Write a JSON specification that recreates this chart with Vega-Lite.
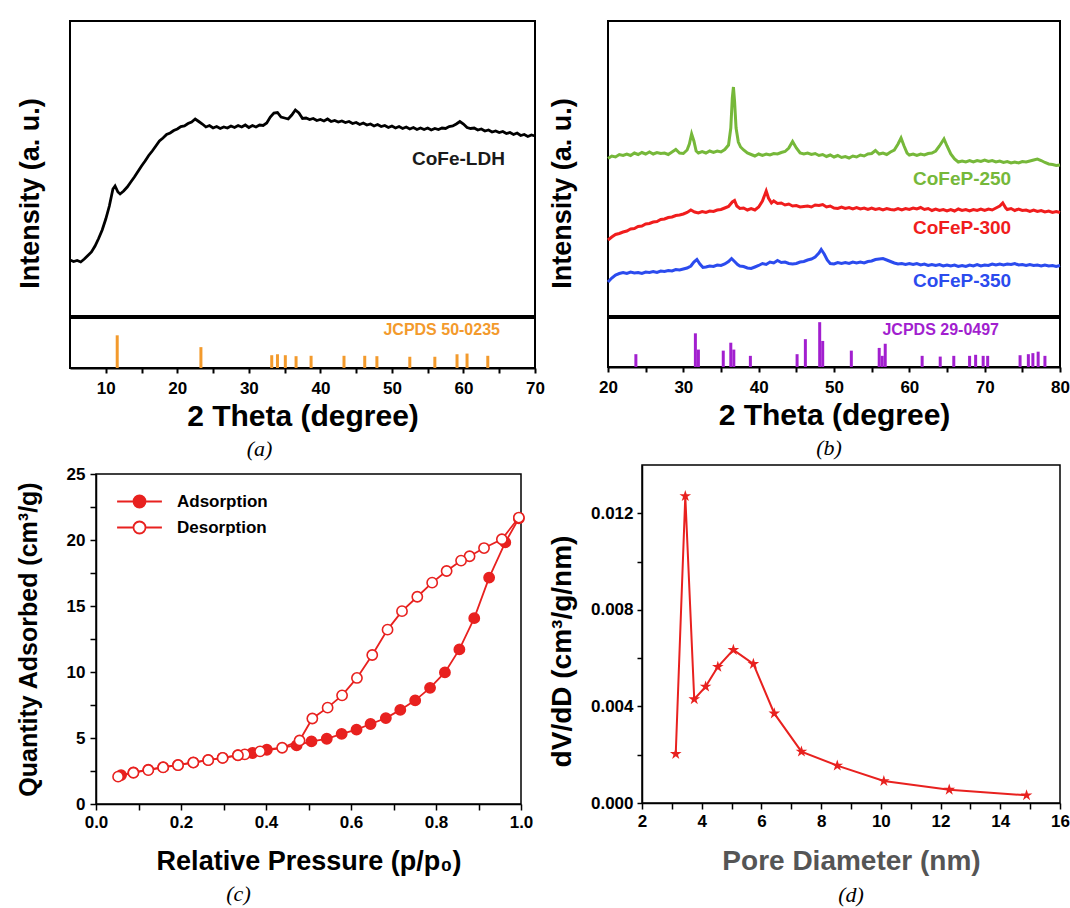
{
  "$schema": "https://vega.github.io/schema/vega-lite/v6.json",
  "background": "white",
  "padding": {"left": 0, "top": 20, "right": 0, "bottom": 0},
  "columns": 1,
  "spacing": 0,
  "align": "none",
  "resolve": {"legend": {"fill": "independent"}},
  "config": {
    "font": "Liberation Sans",
    "view": {"stroke": "black", "strokeWidth": 1.5},
    "axis": {
      "labelFont": "Liberation Sans", "labelFontWeight": "bold", "labelFontSize": 17, "labelColor": "black",
      "titleFont": "Liberation Sans", "titleFontWeight": "bold", "titleColor": "black",
      "domainColor": "black", "domainWidth": 1.5, "tickColor": "black", "tickWidth": 1.5,
      "grid": false, "labelFlush": false, "labelOverlap": false
    },
    "title": {"font": "Liberation Serif", "fontStyle": "italic", "fontWeight": "normal", "fontSize": 22, "color": "black"}
  },
  "concat": [
    {
      "columns": 3,
      "spacing": 1,
      "align": "none",
      "concat": [
        {"width": 14, "height": 1, "view": {"stroke": null}, "data": {"values": []}, "mark": "point"},
        {
          "vconcat": [
            {
              "width": 465, "height": 295,
              "view": {"stroke": "black", "strokeWidth": 2},
              "encoding": {
                "x": {"field": "t", "type": "quantitative", "scale": {"domain": [5, 70], "nice": false, "zero": false}, "axis": null},
                "y": {"field": "v", "type": "quantitative", "scale": {"domain": [0, 295], "nice": false, "zero": false},
                      "axis": {"title": "Intensity (a. u.)", "labels": false, "ticks": false, "domain": false, "titlePadding": 26, "titleFontSize": 27, "titleY": 172}}
              },
              "layer": [
                {
                  "data": {"values": [
                    {"t":5.0,"v":56},{"t":5.5,"v":54.5},{"t":6.0,"v":55.5},{"t":6.5,"v":54},{"t":7.0,"v":57},{"t":7.5,"v":60.5},{"t":8.0,"v":64},{"t":8.5,"v":70},{"t":9.0,"v":77.5},{"t":9.5,"v":86},
                    {"t":10.0,"v":97},{"t":10.5,"v":110},{"t":11.0,"v":127},{"t":11.3,"v":130},{"t":11.7,"v":124},{"t":12.0,"v":122},{"t":12.5,"v":125},{"t":13.0,"v":129},{"t":13.5,"v":134},{"t":14.0,"v":139},
                    {"t":14.5,"v":144.5},{"t":15.0,"v":150},{"t":15.5,"v":155},{"t":16.0,"v":160.5},{"t":16.5,"v":165},{"t":17.0,"v":170},{"t":17.5,"v":175},{"t":18.0,"v":178},{"t":18.5,"v":181.5},{"t":19.0,"v":183},
                    {"t":19.5,"v":185.5},{"t":20.0,"v":187},{"t":20.5,"v":189.5},{"t":21.0,"v":190},{"t":21.5,"v":192.5},{"t":22.0,"v":194},{"t":22.5,"v":197},{"t":23.0,"v":194.5},{"t":23.5,"v":192},{"t":24.0,"v":189},
                    {"t":24.5,"v":190.5},{"t":25.0,"v":188},{"t":25.5,"v":189.5},{"t":26.0,"v":187.5},{"t":26.5,"v":189},{"t":27.0,"v":188},{"t":27.5,"v":190},{"t":28.0,"v":188.5},{"t":28.5,"v":190.5},{"t":29.0,"v":189},
                    {"t":29.5,"v":191},{"t":30.0,"v":188.5},{"t":30.5,"v":190.5},{"t":31.0,"v":189},{"t":31.5,"v":191},{"t":32.0,"v":190.5},{"t":32.5,"v":193},{"t":33.0,"v":199},{"t":33.5,"v":203},{"t":34.0,"v":203.5},
                    {"t":34.5,"v":199},{"t":35.0,"v":198},{"t":35.5,"v":197},{"t":36.0,"v":201},{"t":36.5,"v":206},{"t":37.0,"v":203},{"t":37.5,"v":197.5},{"t":38.0,"v":198},{"t":38.5,"v":196.5},{"t":39.0,"v":197.5},
                    {"t":39.5,"v":195.5},{"t":40.0,"v":196.5},{"t":40.5,"v":195},{"t":41.0,"v":197},{"t":41.5,"v":194.5},{"t":42.0,"v":195.5},{"t":42.5,"v":194},{"t":43.0,"v":195},{"t":43.5,"v":193.5},{"t":44.0,"v":194.5},
                    {"t":44.5,"v":192.5},{"t":45.0,"v":193.5},{"t":45.5,"v":191.5},{"t":46.0,"v":193},{"t":46.5,"v":191},{"t":47.0,"v":192},{"t":47.5,"v":190},{"t":48.0,"v":191.5},{"t":48.5,"v":189.5},{"t":49.0,"v":190.5},
                    {"t":49.5,"v":188.5},{"t":50.0,"v":190},{"t":50.5,"v":188},{"t":51.0,"v":189.5},{"t":51.5,"v":187.5},{"t":52.0,"v":189},{"t":52.5,"v":187},{"t":53.0,"v":188.5},{"t":53.5,"v":186.5},{"t":54.0,"v":188},
                    {"t":54.5,"v":186.5},{"t":55.0,"v":188},{"t":55.5,"v":186},{"t":56.0,"v":187.5},{"t":56.5,"v":186.5},{"t":57.0,"v":188},{"t":57.5,"v":187.5},{"t":58.0,"v":189.5},{"t":58.5,"v":190},{"t":59.0,"v":192},
                    {"t":59.5,"v":194.5},{"t":60.0,"v":192},{"t":60.5,"v":188.5},{"t":61.0,"v":187.5},{"t":61.5,"v":188},{"t":62.0,"v":186},{"t":62.5,"v":187},{"t":63.0,"v":185},{"t":63.5,"v":186},{"t":64.0,"v":184},
                    {"t":64.5,"v":185},{"t":65.0,"v":183.5},{"t":65.5,"v":184.5},{"t":66.0,"v":182.5},{"t":66.5,"v":183.5},{"t":67.0,"v":181.5},{"t":67.5,"v":183},{"t":68.0,"v":180.5},{"t":68.5,"v":181.5},{"t":69.0,"v":179.5},
                    {"t":69.5,"v":181},{"t":70.0,"v":180}
                  ]},
                  "mark": {"type": "line", "color": "black", "strokeWidth": 2.8}
                },
                {
                  "data": {"values": [{"label": "CoFe-LDH", "t": 59.3, "v": 157}]},
                  "mark": {"type": "text", "fontSize": 19, "fontWeight": "bold", "color": "#1a1a1a", "align": "center", "baseline": "middle"},
                  "encoding": {"text": {"field": "label"}}
                }
              ]
            },
            {
              "width": 465, "height": 50,
              "view": {"stroke": "black", "strokeWidth": 2},
              "title": {"text": "(a)", "orient": "bottom", "anchor": "middle", "frame": "group", "offset": 8, "dx": -43},
              "encoding": {
                "x": {"field": "t", "type": "quantitative", "scale": {"domain": [5, 70], "nice": false, "zero": false},
                      "axis": {"title": "2 Theta (degree)", "values": [10,15,20,25,30,35,40,45,50,55,60,65,70],
                               "labelExpr": "datum.value % 10 === 0 ? datum.label : ''", "labelFlush": false,
                               "tickSize": 5, "labelPadding": 7, "titlePadding": 5, "titleFontSize": 30, "domainWidth": 2, "tickWidth": 2}},
                "y": {"field": "h", "type": "quantitative", "scale": {"domain": [0, 52], "nice": false, "zero": false}, "axis": null}
              },
              "layer": [
                {
                  "data": {"values": [
                    {"t":11.6,"h":34},{"t":23.3,"h":21.7},{"t":33.2,"h":13.3},{"t":34.0,"h":14.3},{"t":35.1,"h":13.3},{"t":36.6,"h":12.3},{"t":38.7,"h":12.7},{"t":43.3,"h":12.7},
                    {"t":46.2,"h":12.7},{"t":47.9,"h":12.3},{"t":52.5,"h":11.7},{"t":56.0,"h":11.7},{"t":59.1,"h":14.3},{"t":60.5,"h":15},{"t":63.4,"h":12.7}
                  ]},
                  "mark": {"type": "rule", "color": "#f39a2c", "strokeWidth": 3},
                  "encoding": {"y2": {"datum": 0}}
                },
                {
                  "data": {"values": [{"label": "JCPDS 50-0235", "t": 65.1, "h": 39.5}]},
                  "mark": {"type": "text", "fontSize": 16, "fontWeight": "bold", "color": "#f39a2c", "align": "right", "baseline": "middle"},
                  "encoding": {"text": {"field": "label"}}
                }
              ]
            }
          ],
          "spacing": 0
        },
        {
          "vconcat": [
            {
              "width": 452, "height": 295,
              "view": {"stroke": "black", "strokeWidth": 2},
              "encoding": {
                "x": {"field": "t", "type": "quantitative", "scale": {"domain": [20, 80], "nice": false, "zero": false}, "axis": null},
                "y": {"field": "v", "type": "quantitative", "scale": {"domain": [0, 295], "nice": false, "zero": false},
                      "axis": {"title": "Intensity (a. u.)", "labels": false, "ticks": false, "domain": false, "titlePadding": 32, "titleFontSize": 27, "titleY": 172}}
              },
              "layer": [
                {
                  "data": {"values": [
                    {"t":20.0,"v":157.5},{"t":20.5,"v":160},{"t":21.0,"v":159},{"t":21.5,"v":161.5},{"t":22.0,"v":160.5},{"t":22.5,"v":162},{"t":23.0,"v":160.5},{"t":23.5,"v":163},{"t":24.0,"v":161.5},{"t":24.5,"v":163.5},
                    {"t":25.0,"v":162},{"t":25.5,"v":164},{"t":26.0,"v":162},{"t":26.5,"v":163.5},{"t":27.0,"v":162.5},{"t":27.5,"v":163},{"t":28.0,"v":161.5},{"t":28.5,"v":164},{"t":29.0,"v":166.5},{"t":29.5,"v":163},
                    {"t":30.0,"v":162.5},{"t":30.5,"v":166},{"t":30.8,"v":172},{"t":31.1,"v":182},{"t":31.4,"v":175},{"t":31.7,"v":165},{"t":32.0,"v":163},{"t":32.5,"v":164.5},{"t":33.0,"v":163},{"t":33.5,"v":165},
                    {"t":34.0,"v":163.5},{"t":34.5,"v":165},{"t":35.0,"v":164},{"t":35.5,"v":166.5},{"t":36.0,"v":171},{"t":36.3,"v":188},{"t":36.5,"v":218},{"t":36.65,"v":229},{"t":36.8,"v":215},{"t":37.0,"v":188},
                    {"t":37.3,"v":174},{"t":37.6,"v":169},{"t":38.0,"v":166},{"t":38.5,"v":163},{"t":39.0,"v":161.5},{"t":39.5,"v":160},{"t":40.0,"v":162},{"t":40.5,"v":160.5},{"t":41.0,"v":162},{"t":41.5,"v":161},
                    {"t":42.0,"v":162.5},{"t":42.5,"v":162},{"t":43.0,"v":163.5},{"t":43.5,"v":164.5},{"t":44.0,"v":168},{"t":44.5,"v":174.5},{"t":45.0,"v":168},{"t":45.5,"v":163},{"t":46.0,"v":162},{"t":46.5,"v":163},
                    {"t":47.0,"v":161.5},{"t":47.5,"v":162.5},{"t":48.0,"v":160.5},{"t":48.5,"v":161.5},{"t":49.0,"v":159.5},{"t":49.5,"v":161},{"t":50.0,"v":159},{"t":50.5,"v":160.5},{"t":51.0,"v":158.5},{"t":51.5,"v":159.5},
                    {"t":52.0,"v":158},{"t":52.5,"v":160},{"t":53.0,"v":159},{"t":53.5,"v":161},{"t":54.0,"v":160},{"t":54.5,"v":162},{"t":55.0,"v":162.5},{"t":55.5,"v":165.5},{"t":56.0,"v":162},{"t":56.5,"v":163},
                    {"t":57.0,"v":161.5},{"t":57.5,"v":164},{"t":58.0,"v":166},{"t":58.5,"v":172},{"t":58.9,"v":178},{"t":59.3,"v":170},{"t":59.7,"v":163},{"t":60.0,"v":161},{"t":60.5,"v":162},{"t":61.0,"v":160.5},
                    {"t":61.5,"v":162},{"t":62.0,"v":161},{"t":62.5,"v":162.5},{"t":63.0,"v":163},{"t":63.5,"v":165},{"t":64.0,"v":170},{"t":64.6,"v":177},{"t":65.0,"v":170},{"t":65.5,"v":162},{"t":66.0,"v":157},
                    {"t":66.5,"v":154},{"t":67.0,"v":155},{"t":67.5,"v":154},{"t":68.0,"v":155.5},{"t":68.5,"v":154},{"t":69.0,"v":155.5},{"t":69.5,"v":154.5},{"t":70.0,"v":156},{"t":70.5,"v":154.5},{"t":71.0,"v":155.5},
                    {"t":71.5,"v":154},{"t":72.0,"v":155},{"t":72.5,"v":153.5},{"t":73.0,"v":154.5},{"t":73.5,"v":153},{"t":74.0,"v":154},{"t":74.5,"v":153},{"t":75.0,"v":154.5},{"t":75.5,"v":154},{"t":76.0,"v":155},
                    {"t":76.5,"v":156},{"t":77.0,"v":157},{"t":77.5,"v":155.5},{"t":78.0,"v":153.5},{"t":78.5,"v":152},{"t":79.0,"v":151.5},{"t":79.5,"v":150.5},{"t":80.0,"v":151}
                  ]},
                  "mark": {"type": "line", "color": "#76b83a", "strokeWidth": 3}
                },
                {
                  "data": {"values": [
                    {"t":20.0,"v":76},{"t":20.5,"v":79},{"t":21.0,"v":81.5},{"t":21.5,"v":82.5},{"t":22.0,"v":84},{"t":22.5,"v":85},{"t":23.0,"v":87},{"t":23.5,"v":87.5},{"t":24.0,"v":89.5},{"t":24.5,"v":90},
                    {"t":25.0,"v":92},{"t":25.5,"v":92.5},{"t":26.0,"v":94},{"t":26.5,"v":94.5},{"t":27.0,"v":96.5},{"t":27.5,"v":97},{"t":28.0,"v":98.5},{"t":28.5,"v":99},{"t":29.0,"v":100.5},{"t":29.5,"v":101},
                    {"t":30.0,"v":102},{"t":30.5,"v":103.5},{"t":31.0,"v":106},{"t":31.5,"v":104},{"t":32.0,"v":103},{"t":32.5,"v":104.5},{"t":33.0,"v":103.5},{"t":33.5,"v":105},{"t":34.0,"v":104.5},{"t":34.5,"v":106},
                    {"t":35.0,"v":106.5},{"t":35.5,"v":108},{"t":36.0,"v":109.5},{"t":36.5,"v":114},{"t":36.8,"v":115.5},{"t":37.1,"v":110},{"t":37.5,"v":107.5},{"t":38.0,"v":108},{"t":38.5,"v":106},{"t":39.0,"v":107.5},
                    {"t":39.5,"v":106},{"t":40.0,"v":109},{"t":40.5,"v":115},{"t":41.0,"v":125},{"t":41.3,"v":118},{"t":41.7,"v":113},{"t":42.0,"v":115},{"t":42.5,"v":112.5},{"t":43.0,"v":113},{"t":43.5,"v":111},
                    {"t":44.0,"v":112},{"t":44.5,"v":110},{"t":45.0,"v":110.5},{"t":45.5,"v":109},{"t":46.0,"v":109.5},{"t":46.5,"v":110},{"t":47.0,"v":109},{"t":47.5,"v":111},{"t":48.0,"v":110.5},{"t":48.5,"v":111.5},
                    {"t":49.0,"v":109},{"t":49.5,"v":110},{"t":50.0,"v":108},{"t":50.5,"v":107.5},{"t":51.0,"v":109},{"t":51.5,"v":107.5},{"t":52.0,"v":108.5},{"t":52.5,"v":107},{"t":53.0,"v":108.5},{"t":53.5,"v":107},
                    {"t":54.0,"v":108},{"t":54.5,"v":106.5},{"t":55.0,"v":108},{"t":55.5,"v":106.5},{"t":56.0,"v":107.5},{"t":56.5,"v":106},{"t":57.0,"v":107.5},{"t":57.5,"v":106.5},{"t":58.0,"v":106},{"t":58.5,"v":107.5},
                    {"t":59.0,"v":106},{"t":59.5,"v":107.5},{"t":60.0,"v":106.5},{"t":60.5,"v":108},{"t":61.0,"v":107},{"t":61.5,"v":108.5},{"t":62.0,"v":106.5},{"t":62.5,"v":107.5},{"t":63.0,"v":105.5},{"t":63.5,"v":107},
                    {"t":64.0,"v":105.5},{"t":64.5,"v":106.5},{"t":65.0,"v":105},{"t":65.5,"v":106.5},{"t":66.0,"v":105},{"t":66.5,"v":107},{"t":67.0,"v":105.5},{"t":67.5,"v":106.5},{"t":68.0,"v":105},{"t":68.5,"v":106.5},
                    {"t":69.0,"v":105.5},{"t":69.5,"v":107},{"t":70.0,"v":105.5},{"t":70.5,"v":107},{"t":71.0,"v":106},{"t":71.5,"v":108},{"t":72.0,"v":110},{"t":72.4,"v":113},{"t":72.8,"v":108},{"t":73.0,"v":106.5},
                    {"t":73.5,"v":107.5},{"t":74.0,"v":105.5},{"t":74.5,"v":107},{"t":75.0,"v":105.5},{"t":75.5,"v":106},{"t":76.0,"v":104.5},{"t":76.5,"v":106},{"t":77.0,"v":104.5},{"t":77.5,"v":105.5},{"t":78.0,"v":104},
                    {"t":78.5,"v":105},{"t":79.0,"v":103.5},{"t":79.5,"v":104.5},{"t":80.0,"v":103.5}
                  ]},
                  "mark": {"type": "line", "color": "#f01d1d", "strokeWidth": 3}
                },
                {
                  "data": {"values": [
                    {"t":20.0,"v":34},{"t":20.5,"v":38},{"t":21.0,"v":41},{"t":21.5,"v":42.5},{"t":22.0,"v":43.5},{"t":22.5,"v":42.5},{"t":23.0,"v":44},{"t":23.5,"v":43},{"t":24.0,"v":43.5},{"t":24.5,"v":42.5},
                    {"t":25.0,"v":44},{"t":25.5,"v":43.5},{"t":26.0,"v":44.5},{"t":26.5,"v":43.5},{"t":27.0,"v":45},{"t":27.5,"v":44.5},{"t":28.0,"v":45.5},{"t":28.5,"v":45},{"t":29.0,"v":46.5},{"t":29.5,"v":46},
                    {"t":30.0,"v":47},{"t":30.5,"v":48},{"t":31.0,"v":50},{"t":31.4,"v":54},{"t":31.8,"v":56.5},{"t":32.2,"v":52},{"t":32.6,"v":48.5},{"t":33.0,"v":49},{"t":33.5,"v":50},{"t":34.0,"v":49.5},
                    {"t":34.5,"v":51},{"t":35.0,"v":50.5},{"t":35.5,"v":52},{"t":36.0,"v":54.5},{"t":36.4,"v":57.5},{"t":36.8,"v":54.5},{"t":37.2,"v":51.5},{"t":37.5,"v":50},{"t":38.0,"v":49.5},{"t":38.5,"v":48},
                    {"t":39.0,"v":47.5},{"t":39.5,"v":49},{"t":40.0,"v":50.5},{"t":40.5,"v":52.5},{"t":41.0,"v":51.5},{"t":41.5,"v":54},{"t":42.0,"v":53},{"t":42.5,"v":55.5},{"t":43.0,"v":53.5},{"t":43.5,"v":54},
                    {"t":44.0,"v":52.5},{"t":44.5,"v":52},{"t":45.0,"v":52.5},{"t":45.5,"v":54},{"t":46.0,"v":54.5},{"t":46.5,"v":56},{"t":47.0,"v":57},{"t":47.5,"v":59},{"t":48.0,"v":63},{"t":48.3,"v":66.5},
                    {"t":48.7,"v":62},{"t":49.1,"v":56},{"t":49.5,"v":52.5},{"t":50.0,"v":52},{"t":50.5,"v":53.5},{"t":51.0,"v":52.5},{"t":51.5,"v":53.5},{"t":52.0,"v":52.5},{"t":52.5,"v":54},{"t":53.0,"v":53},
                    {"t":53.5,"v":54},{"t":54.0,"v":53},{"t":54.5,"v":54.5},{"t":55.0,"v":55},{"t":55.5,"v":56.5},{"t":56.0,"v":57},{"t":56.5,"v":57.5},{"t":57.0,"v":56},{"t":57.5,"v":54.5},{"t":58.0,"v":53},
                    {"t":58.5,"v":52},{"t":59.0,"v":52.5},{"t":59.5,"v":51.5},{"t":60.0,"v":52.5},{"t":60.5,"v":51.5},{"t":61.0,"v":52.5},{"t":61.5,"v":51},{"t":62.0,"v":52},{"t":62.5,"v":50.5},{"t":63.0,"v":51.5},
                    {"t":63.5,"v":50.5},{"t":64.0,"v":51.5},{"t":64.5,"v":50},{"t":65.0,"v":51},{"t":65.5,"v":50},{"t":66.0,"v":51},{"t":66.5,"v":49.5},{"t":67.0,"v":50.5},{"t":67.5,"v":49.5},{"t":68.0,"v":51},
                    {"t":68.5,"v":50},{"t":69.0,"v":51.5},{"t":69.5,"v":50},{"t":70.0,"v":51},{"t":70.5,"v":50.5},{"t":71.0,"v":52},{"t":71.5,"v":51},{"t":72.0,"v":52},{"t":72.5,"v":51},{"t":73.0,"v":52},
                    {"t":73.5,"v":51.5},{"t":74.0,"v":52.5},{"t":74.5,"v":51},{"t":75.0,"v":51.5},{"t":75.5,"v":50.5},{"t":76.0,"v":51.5},{"t":76.5,"v":50.5},{"t":77.0,"v":51},{"t":77.5,"v":50},{"t":78.0,"v":51},
                    {"t":78.5,"v":50},{"t":79.0,"v":50.5},{"t":79.5,"v":49.5},{"t":80.0,"v":50.5}
                  ]},
                  "mark": {"type": "line", "color": "#2b4bee", "strokeWidth": 3}
                },
                {
                  "data": {"values": [
                    {"label": "CoFeP-250", "t": 67, "v": 137},
                    {"label": "CoFeP-300", "t": 67, "v": 88},
                    {"label": "CoFeP-350", "t": 67, "v": 35}
                  ]},
                  "mark": {"type": "text", "fontSize": 19, "fontWeight": "bold", "align": "center", "baseline": "middle"},
                  "encoding": {
                    "text": {"field": "label"},
                    "color": {"field": "label", "type": "nominal", "scale": {"domain": ["CoFeP-250", "CoFeP-300", "CoFeP-350"], "range": ["#76b83a", "#f01d1d", "#2b4bee"]}, "legend": null}
                  }
                }
              ]
            },
            {
              "width": 452, "height": 49,
              "view": {"stroke": "black", "strokeWidth": 2},
              "title": {"text": "(b)", "orient": "bottom", "anchor": "middle", "frame": "group", "offset": 8, "dx": -5},
              "encoding": {
                "x": {"field": "t", "type": "quantitative", "scale": {"domain": [20, 80], "nice": false, "zero": false},
                      "axis": {"title": "2 Theta (degree)", "values": [20,25,30,35,40,45,50,55,60,65,70,75,80],
                               "labelExpr": "datum.value % 10 === 0 ? datum.label : ''", "labelFlush": false,
                               "tickSize": 5, "labelPadding": 7, "titlePadding": 5, "titleFontSize": 30, "domainWidth": 2, "tickWidth": 2}},
                "y": {"field": "h", "type": "quantitative", "scale": {"domain": [0, 47], "nice": false, "zero": false}, "axis": null}
              },
              "layer": [
                {
                  "data": {"values": [
                    {"t":23.7,"h":12.3},{"t":31.6,"h":32.3},{"t":32.0,"h":16.7},{"t":35.3,"h":15.7},{"t":36.3,"h":23.3},{"t":36.7,"h":16.7},{"t":38.9,"h":10.7},{"t":45.1,"h":12.3},{"t":46.2,"h":26.7},
                    {"t":48.1,"h":43},{"t":48.5,"h":25},{"t":52.3,"h":15.7},{"t":56.0,"h":18.3},{"t":56.4,"h":10.7},{"t":56.8,"h":22.3},{"t":61.7,"h":10.7},{"t":64.1,"h":10},{"t":65.9,"h":10.7},
                    {"t":68.0,"h":10.7},{"t":68.8,"h":11.7},{"t":69.8,"h":10.7},{"t":70.4,"h":10.7},{"t":74.7,"h":11.3},{"t":75.8,"h":12.3},{"t":76.4,"h":13.3},{"t":77.1,"h":14.7},{"t":78.0,"h":10.7}
                  ]},
                  "mark": {"type": "rule", "color": "#a21fcf", "strokeWidth": 3},
                  "encoding": {"y2": {"datum": 0}}
                },
                {
                  "data": {"values": [{"label": "JCPDS 29-0497", "t": 71.9, "h": 35.7}]},
                  "mark": {"type": "text", "fontSize": 16, "fontWeight": "bold", "color": "#a21fcf", "align": "right", "baseline": "middle"},
                  "encoding": {"text": {"field": "label"}}
                }
              ]
            }
          ],
          "spacing": 0
        }
      ]
    },
    {
      "columns": 3,
      "spacing": {"row": 2, "column": 13},
      "align": "none",
      "resolve": {"legend": {"fill": "independent"}},
      "concat": [
        {"width": 2, "height": 1, "view": {"stroke": null}, "data": {"values": []}, "mark": "point"},
        {"width": 1, "height": 1, "view": {"stroke": null}, "data": {"values": []}, "mark": "point"},
        {"width": 1, "height": 1, "view": {"stroke": null}, "data": {"values": []}, "mark": "point"},
        {"width": 2, "height": 1, "view": {"stroke": null}, "data": {"values": []}, "mark": "point"},
        {
          "width": 425, "height": 330,
          "title": {"text": "(c)", "orient": "bottom", "anchor": "middle", "frame": "group", "offset": 10, "dx": -70},
          "data": {"values": [
            {"branch":"Adsorption","p":0.059,"q":2.19},{"branch":"Adsorption","p":0.088,"q":2.40},{"branch":"Adsorption","p":0.123,"q":2.60},{"branch":"Adsorption","p":0.158,"q":2.79},
            {"branch":"Adsorption","p":0.193,"q":2.96},{"branch":"Adsorption","p":0.229,"q":3.15},{"branch":"Adsorption","p":0.264,"q":3.33},{"branch":"Adsorption","p":0.298,"q":3.50},
            {"branch":"Adsorption","p":0.334,"q":3.70},{"branch":"Adsorption","p":0.368,"q":3.86},{"branch":"Adsorption","p":0.402,"q":4.11},{"branch":"Adsorption","p":0.472,"q":4.44},
            {"branch":"Adsorption","p":0.507,"q":4.74},{"branch":"Adsorption","p":0.543,"q":4.94},{"branch":"Adsorption","p":0.578,"q":5.31},{"branch":"Adsorption","p":0.613,"q":5.63},
            {"branch":"Adsorption","p":0.646,"q":6.06},{"branch":"Adsorption","p":0.682,"q":6.51},{"branch":"Adsorption","p":0.716,"q":7.13},{"branch":"Adsorption","p":0.751,"q":7.85},
            {"branch":"Adsorption","p":0.786,"q":8.80},{"branch":"Adsorption","p":0.821,"q":9.97},{"branch":"Adsorption","p":0.855,"q":11.71},{"branch":"Adsorption","p":0.890,"q":14.08},
            {"branch":"Adsorption","p":0.925,"q":17.15},{"branch":"Adsorption","p":0.963,"q":19.82},{"branch":"Adsorption","p":0.995,"q":21.64},
            {"branch":"Desorption","p":0.995,"q":21.70},{"branch":"Desorption","p":0.955,"q":20.06},{"branch":"Desorption","p":0.913,"q":19.39},{"branch":"Desorption","p":0.879,"q":18.77},
            {"branch":"Desorption","p":0.859,"q":18.44},{"branch":"Desorption","p":0.825,"q":17.65},{"branch":"Desorption","p":0.791,"q":16.77},{"branch":"Desorption","p":0.756,"q":15.70},
            {"branch":"Desorption","p":0.720,"q":14.61},{"branch":"Desorption","p":0.686,"q":13.21},{"branch":"Desorption","p":0.650,"q":11.29},{"branch":"Desorption","p":0.614,"q":9.55},
            {"branch":"Desorption","p":0.579,"q":8.23},{"branch":"Desorption","p":0.545,"q":7.30},{"branch":"Desorption","p":0.509,"q":6.48},{"branch":"Desorption","p":0.479,"q":4.81},
            {"branch":"Desorption","p":0.438,"q":4.26},{"branch":"Desorption","p":0.386,"q":3.99},{"branch":"Desorption","p":0.350,"q":3.76},{"branch":"Desorption","p":0.334,"q":3.69},
            {"branch":"Desorption","p":0.298,"q":3.49},{"branch":"Desorption","p":0.264,"q":3.32},{"branch":"Desorption","p":0.229,"q":3.14},{"branch":"Desorption","p":0.193,"q":2.94},
            {"branch":"Desorption","p":0.158,"q":2.77},{"branch":"Desorption","p":0.123,"q":2.57},{"branch":"Desorption","p":0.088,"q":2.37},{"branch":"Desorption","p":0.052,"q":2.07}
          ]},
          "encoding": {
            "x": {"field": "p", "type": "quantitative", "scale": {"domain": [0, 1], "nice": false},
                  "axis": {"title": "Relative Pressure (p/p₀)", "values": [0,0.1,0.2,0.3,0.4,0.5,0.6,0.7,0.8,0.9,1.0],
                           "labelExpr": "round(datum.value*10) % 2 === 0 ? format(datum.value, '.1f') : ''",
                           "tickSize": 6, "labelPadding": 4, "titlePadding": 18, "titleFontSize": 27}},
            "y": {"field": "q", "type": "quantitative", "scale": {"domain": [0, 25], "nice": false},
                  "axis": {"title": "Quantity Adsorbed (cm³/g)", "values": [0,2.5,5,7.5,10,12.5,15,17.5,20,22.5,25],
                           "labelExpr": "datum.value % 5 === 0 ? datum.label : ''",
                           "tickSize": 6, "labelPadding": 5, "titlePadding": 25, "titleFontSize": 25}}
          },
          "layer": [
            {
              "mark": {"type": "line", "color": "#e8211f", "strokeWidth": 1.8},
              "encoding": {"detail": {"field": "branch", "type": "nominal"}}
            },
            {
              "mark": {"type": "point", "size": 105, "filled": true, "stroke": "#e8211f", "strokeWidth": 1.6, "opacity": 1},
              "encoding": {
                "fill": {"field": "branch", "type": "nominal",
                         "scale": {"domain": ["Adsorption", "Desorption"], "range": ["#e8211f", "#ffffff"]},
                         "legend": {"title": null, "orient": "none", "legendX": 35, "legendY": 19, "padding": 0,
                                    "symbolSize": 196, "symbolStrokeColor": "#e8211f", "symbolStrokeWidth": 1.8, "symbolOpacity": 1,
                                    "labelFontSize": 17, "labelFontWeight": "bold", "labelFont": "Liberation Sans", "labelColor": "black",
                                    "labelOffset": 29, "rowPadding": 5,
                                    "encode": {"symbols": {"update": {
                                      "shape": {"value": "M-3.2,0H-0.86M0.86,0H3.2M0.86,0A0.86,0.86,0,1,1,-0.86,0A0.86,0.86,0,1,1,0.86,0Z"},
                                      "stroke": {"value": "#e8211f"}, "strokeWidth": {"value": 1.8}, "size": {"value": 196}, "opacity": {"value": 1}}}}}}
              }
            }
          ]
        },
        {
          "width": 418, "height": 338,
          "title": {"text": "(d)", "orient": "bottom", "anchor": "middle", "frame": "group", "offset": 10, "dx": 0},
          "data": {"values": [
            {"d":3.13,"v":0.00203},{"d":3.45,"v":0.01271},{"d":3.75,"v":0.00430},{"d":4.13,"v":0.00482},{"d":4.54,"v":0.00564},{"d":5.06,"v":0.00634},{"d":5.73,"v":0.00576},
            {"d":6.43,"v":0.00371},{"d":7.34,"v":0.00213},{"d":8.54,"v":0.00155},{"d":10.10,"v":0.00091},{"d":12.29,"v":0.00055},{"d":14.88,"v":0.00032}
          ]},
          "encoding": {
            "x": {"field": "d", "type": "quantitative", "scale": {"domain": [2, 16], "nice": false},
                  "axis": {"title": "Pore Diameter (nm)", "titleColor": "#555555", "values": [2,3,4,5,6,7,8,9,10,11,12,13,14,15,16],
                           "labelExpr": "datum.value % 2 === 0 ? datum.label : ''",
                           "tickSize": 6, "labelPadding": 4, "titlePadding": 18, "titleFontSize": 28}},
            "y": {"field": "v", "type": "quantitative", "scale": {"domain": [0, 0.014], "nice": false},
                  "axis": {"title": "dV/dD (cm³/g/nm)", "values": [0,0.002,0.004,0.006,0.008,0.010,0.012],
                           "labelExpr": "round(datum.value*1000) % 4 === 0 ? format(datum.value, '.3f') : ''",
                           "tickSize": 5, "labelPadding": 4, "titlePadding": 14, "titleFontSize": 28, "titleY": 186}}
          },
          "layer": [
            {"mark": {"type": "line", "color": "#e8211f", "strokeWidth": 2}},
            {"mark": {"type": "point", "filled": true, "color": "#e8211f", "opacity": 1, "size": 150,
                      "shape": "M0,-1L0.2245,-0.309L0.951,-0.309L0.363,0.118L0.588,0.809L0,0.382L-0.588,0.809L-0.363,0.118L-0.951,-0.309L-0.2245,-0.309Z"}}
          ]
        }
      ]
    }
  ]
}
